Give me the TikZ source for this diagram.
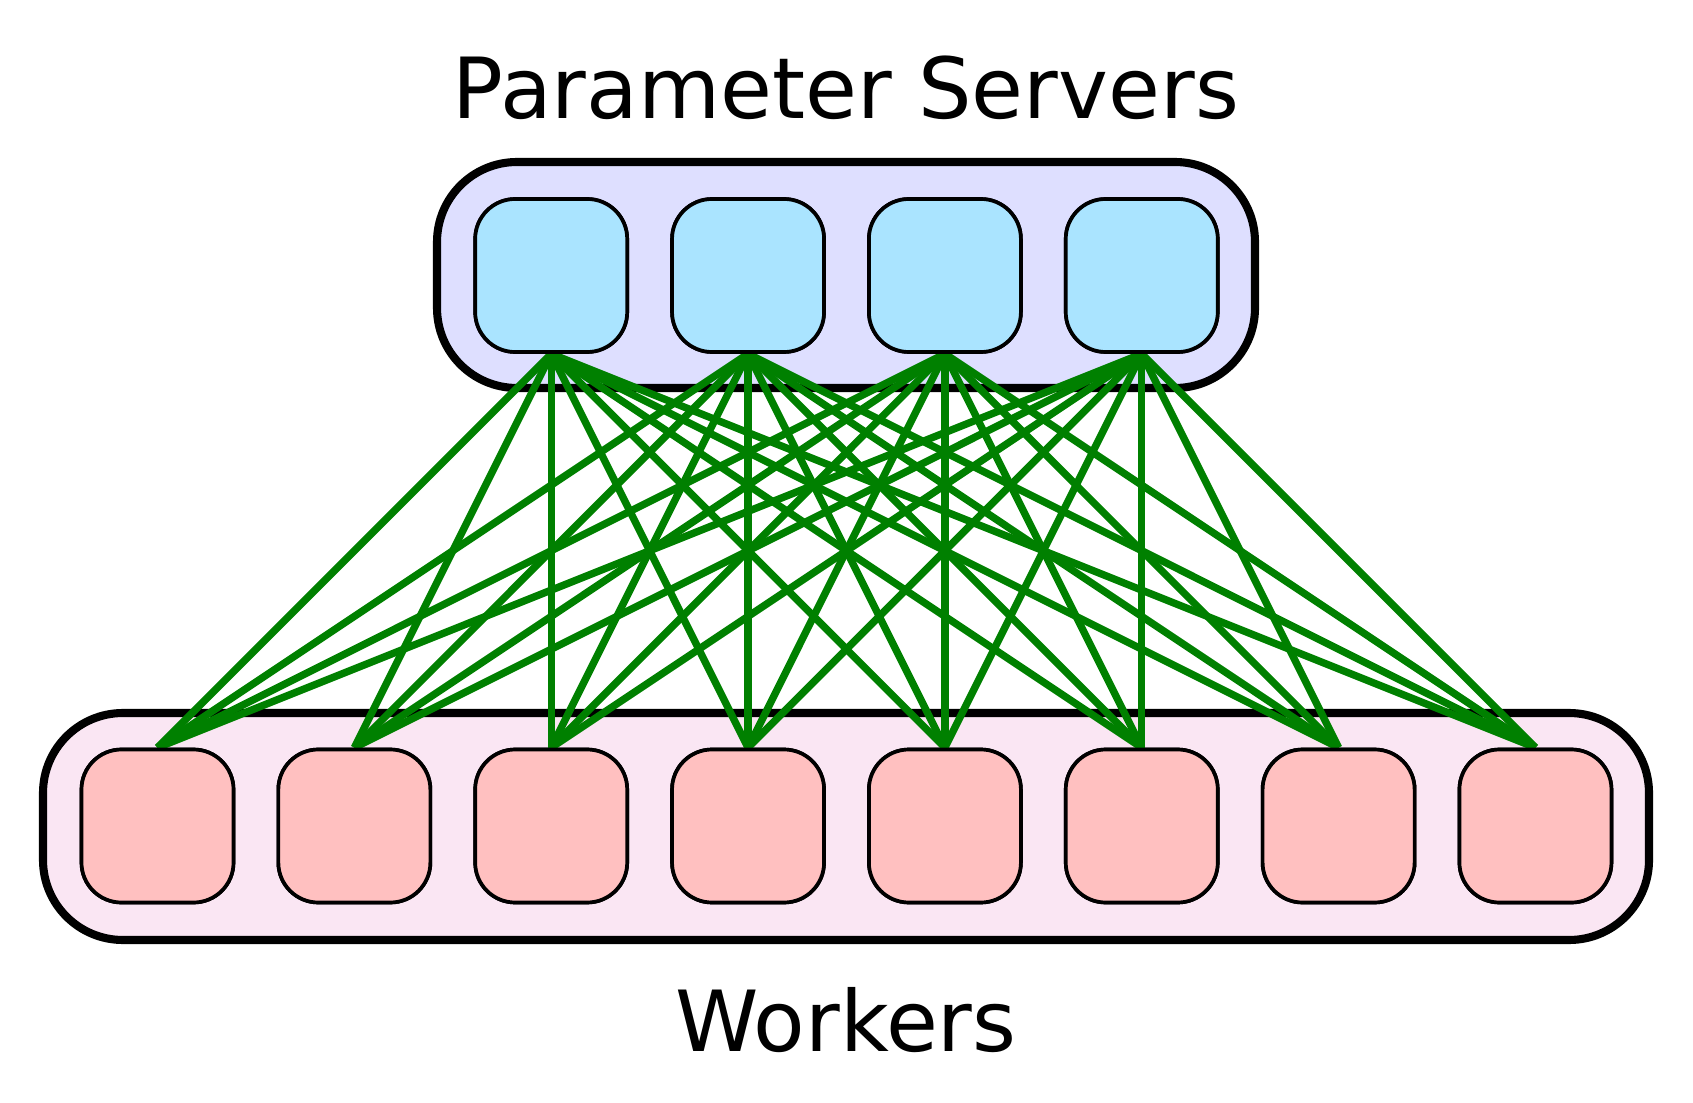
\documentclass[tikz,border=0pt]{standalone}
\usepackage{fontspec}
\setmainfont{DejaVu Sans}
\usepackage{tikz}
\definecolor{psgroup}{RGB}{222,223,255}
\definecolor{psbox}{RGB}{170,228,255}
\definecolor{wkgroup}{RGB}{250,230,243}
\definecolor{wkbox}{RGB}{255,192,192}
\definecolor{linkgreen}{RGB}{0,128,0}

\begin{document}
\begin{tikzpicture}[
		group/.style={line width=4.6pt, rounded corners=1.6cm},
		unit/.style={draw, line width=2.1pt, rounded corners=0.8cm, minimum width=3.04cm, minimum height=3.06cm, inner sep=0pt},
		server/.style={unit, fill=psbox},
		worker/.style={unit, fill=wkbox},
		link/.style={line width=4.2pt, color=linkgreen},
		caption/.style={anchor=base, font=\fontsize{48}{58}\selectfont}
	]
			%%%%% START %%%%%
			\useasboundingbox (0, 0) rectangle (33.86, 22.04);
			
			\node[caption] (pstitle) at (16.92, 19.66) {Parameter Servers};
			\node[caption] (wktitle) at (16.92, 1.02) {Workers};
			
			\draw[group, fill=psgroup] (8.74, 18.80) rectangle (25.10, 14.28);
			\draw[group, fill=wkgroup] (0.86, 7.78) rectangle (32.98, 3.24);
			
			\foreach \i in {1,...,4}
				\coordinate (sc\i) at ({3.15 + 3.937*(\i+1)}, 16.53);
			\foreach \i in {1,...,8}
				\coordinate (wc\i) at ({3.15 + 3.937*(\i-1)}, 5.52);
			
			\foreach \i in {1,...,4}
				\node[server] (s\i) at (sc\i) {};
			\foreach \i in {1,...,8}
				\node[worker] (w\i) at (wc\i) {};
			
			% links from every server to every worker
			\foreach \i in {1,...,4}
				\foreach \j in {1,...,8}
					\draw[link] (s\i.south) -- (w\j.north);
			
			% servers and workers again on top of the links
			\foreach \i in {1,...,4}
				\node[server] at (sc\i) {};
			\foreach \i in {1,...,8}
				\node[worker] at (wc\i) {};
			
			%%%%% END %%%%%
\end{tikzpicture}
\end{document}
